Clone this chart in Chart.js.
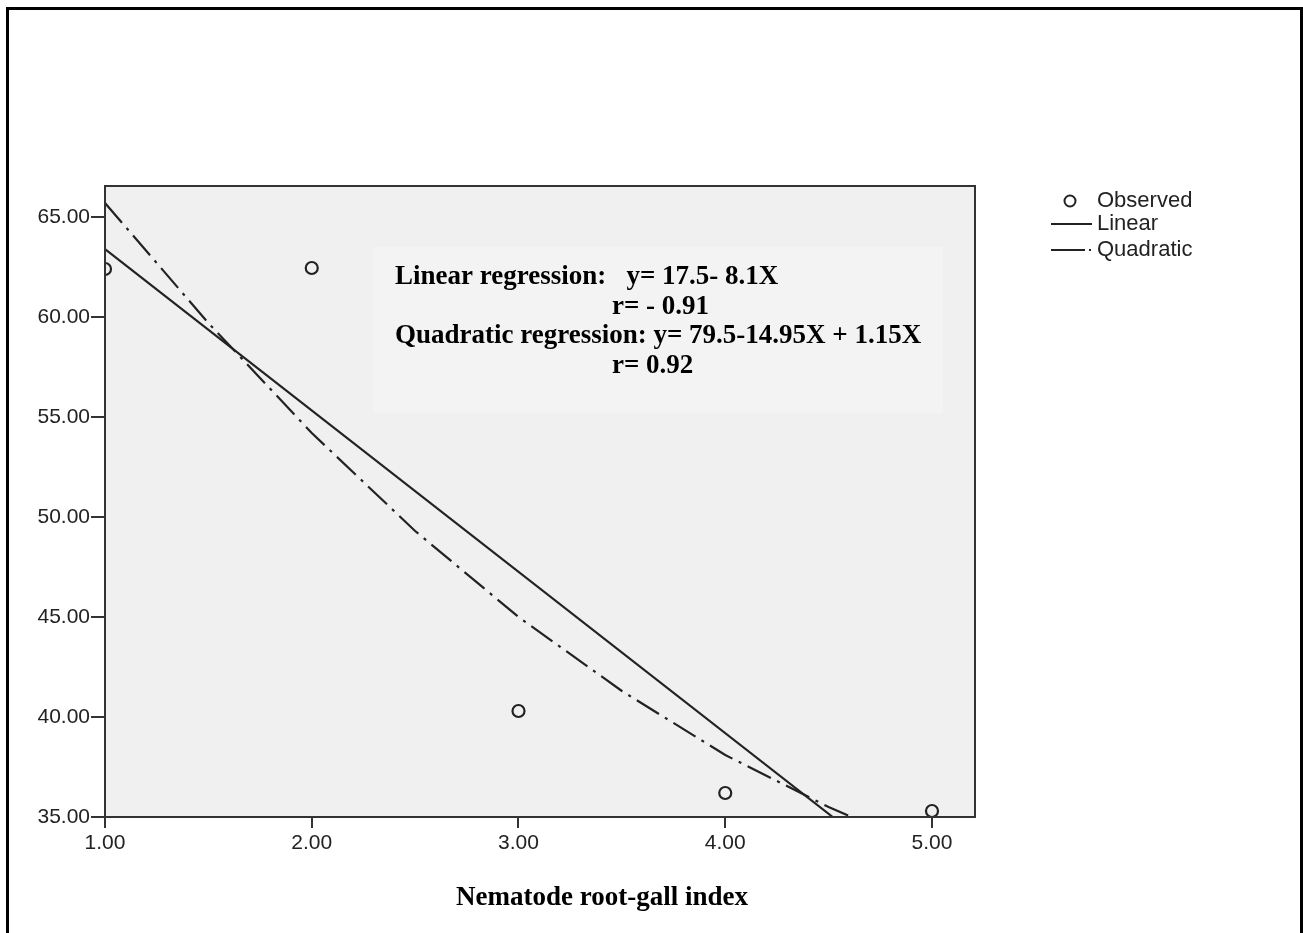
<!DOCTYPE html>
<html><head><meta charset="utf-8">
<script src="https://cdn.jsdelivr.net/npm/chart.js@4.4.1/dist/chart.umd.min.js"></script>
<style>html,body{margin:0;padding:0;background:#fff}#wrap{width:1303px;height:933px;position:relative}canvas{display:block}</style>
</head><body><div id="wrap"><canvas id="c" width="1303" height="933"></canvas></div>
<script>
// ---- data ----
const rootGallIndex = [1, 2, 3, 4, 5];
const observedValues = [62.4, 62.45, 40.3, 36.2, 35.3];
const linearX = [1.0, 4.52];
const linearY = [63.4, 35.0];
const quadX = [1.0, 1.5, 2.0, 2.5, 3.0, 3.5, 4.0, 4.5, 4.61];
const quadY = [65.7, 59.7, 54.2, 49.3, 45.0, 41.3, 38.1, 35.5, 35.0];
const xTicks = [1, 2, 3, 4, 5];
const yTicks = [35, 40, 45, 50, 55, 60, 65];
const xTitle = 'Nematode root-gall index';
const legendLabels = ['Observed', 'Linear', 'Quadratic'];
const noteLines = [
  ['Linear regression:   y= 17.5- 8.1X', 0],
  ['r= - 0.91', 1],
  ['Quadratic regression: y= 79.5-14.95X + 1.15X', 0],
  ['r= 0.92', 1]
];

const zip = (xs, ys) => xs.map((x, i) => ({x, y: ys[i]}));
const INK = '#222';
const PLOTBG = '#f0f0f0';
const QDASH = [26, 7, 3, 7];

const decor = {
  id: 'decor',
  beforeDraw(chart) {
    const {ctx, chartArea: a} = chart;
    ctx.save();
    ctx.fillStyle = '#fff';
    ctx.fillRect(0, 0, chart.width, chart.height);
    ctx.fillStyle = PLOTBG;
    ctx.fillRect(a.left, a.top, a.right - a.left, a.bottom - a.top);
    ctx.fillStyle = '#f3f3f3';
    ctx.fillRect(373, 247, 570, 166);
    ctx.restore();
  },
  afterDraw(chart) {
    const {ctx, chartArea: a} = chart;
    ctx.save();
    // plot frame
    ctx.strokeStyle = '#333';
    ctx.lineWidth = 2;
    ctx.strokeRect(a.left, a.top, a.right - a.left, a.bottom - a.top);
    // annotation
    ctx.fillStyle = '#000';
    ctx.font = 'bold 27px "Liberation Serif", "Times New Roman", serif';
    ctx.textBaseline = 'alphabetic';
    ctx.textAlign = 'left';
    noteLines.forEach(([t, indent], i) => {
      ctx.fillText(t, indent ? 612 : 395, 284 + i * 29.5);
    });
    // x title
    ctx.textAlign = 'center';
    ctx.fillText(xTitle, 602, 905);
    // legend
    ctx.font = '22px "Liberation Sans", Arial, sans-serif';
    ctx.textAlign = 'left';
    ctx.textBaseline = 'middle';
    ctx.fillStyle = INK;
    const ly = [201, 224, 250];
    legendLabels.forEach((t, i) => ctx.fillText(t, 1097, ly[i]));
    ctx.strokeStyle = '#222';
    ctx.lineWidth = 2;
    ctx.beginPath(); ctx.arc(1070, ly[0], 5.5, 0, Math.PI * 2); ctx.stroke();
    ctx.beginPath(); ctx.moveTo(1051, ly[1]); ctx.lineTo(1092, ly[1]); ctx.stroke();
    ctx.setLineDash([34, 4, 2, 4]);
    ctx.beginPath(); ctx.moveTo(1051, ly[2]); ctx.lineTo(1095, ly[2]); ctx.stroke();
    ctx.setLineDash([]);
    // outer frame
    ctx.strokeStyle = '#000';
    ctx.lineWidth = 3;
    ctx.strokeRect(7.5, 8.5, 1294, 1000);
    ctx.restore();
  }
};

new Chart(document.getElementById('c'), {
  type: 'scatter',
  data: {
    datasets: [
      {
        label: 'Quadratic',
        data: zip(quadX, quadY),
        showLine: true,
        borderColor: INK,
        borderWidth: 2.2,
        borderDash: QDASH,
        pointRadius: 0,
        fill: false,
        tension: 0
      },
      {
        label: 'Linear',
        data: zip(linearX, linearY),
        showLine: true,
        borderColor: INK,
        borderWidth: 2.2,
        pointRadius: 0,
        fill: false
      },
      {
        label: 'Observed',
        data: zip(rootGallIndex, observedValues),
        showLine: false,
        pointRadius: 6,
        pointBorderWidth: 2.2,
        pointBorderColor: '#222',
        pointBackgroundColor: PLOTBG,
        clip: 0
      }
    ]
  },
  options: {
    responsive: false,
    animation: false,
    devicePixelRatio: 1,
    layout: {padding: {left: 0, top: 186, right: 328, bottom: 0}},
    plugins: {legend: {display: false}, tooltip: {enabled: false}, title: {display: false}},
    scales: {
      x: {
        type: 'linear',
        min: 1,
        max: 5.208,
        afterFit: s => { s.height = 116; },
        afterBuildTicks: s => { s.ticks = xTicks.map(v => ({value: v})); },
        grid: {drawOnChartArea: false, drawTicks: true, tickLength: 11, color: '#333', lineWidth: 2},
        border: {display: false},
        ticks: {
          color: INK,
          padding: 3,
          maxRotation: 0,
          font: {family: '"Liberation Sans", Arial, sans-serif', size: 21},
          callback: v => Number(v).toFixed(2)
        }
      },
      y: {
        type: 'linear',
        min: 35,
        max: 66.55,
        afterFit: s => { s.width = 105; },
        afterBuildTicks: s => { s.ticks = yTicks.map(v => ({value: v})); },
        grid: {drawOnChartArea: false, drawTicks: true, tickLength: 14, color: '#333', lineWidth: 2},
        border: {display: false},
        ticks: {
          color: INK,
          padding: 1,
          font: {family: '"Liberation Sans", Arial, sans-serif', size: 21},
          callback: v => Number(v).toFixed(2)
        }
      }
    }
  },
  plugins: [decor]
});
</script>
</body></html>
